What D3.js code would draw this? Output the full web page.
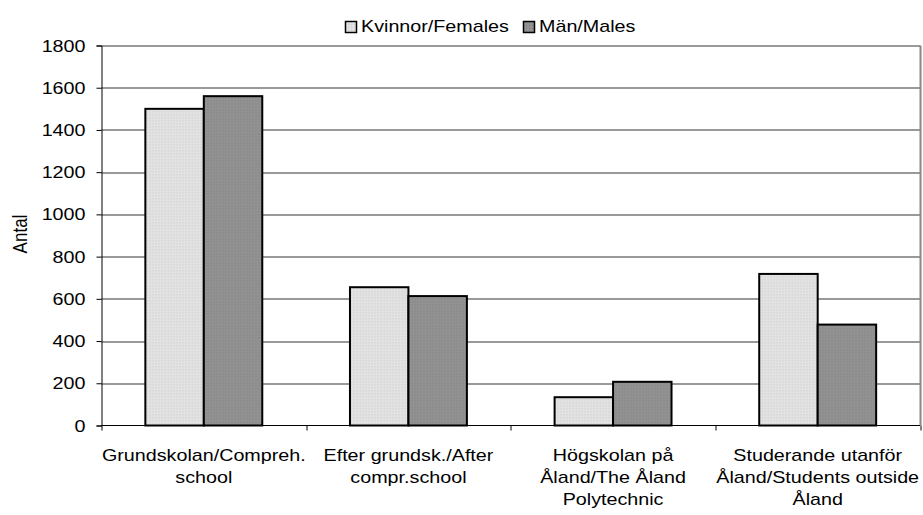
<!DOCTYPE html>
<html>
<head>
<meta charset="utf-8">
<script src="https://cdn.jsdelivr.net/npm/d3@7"></script>
<style>
  body { margin: 0; background: #fff; }
  text { font-family: "Liberation Sans", Arial, sans-serif; fill: #000; }
</style>
</head>
<body>
<div id="viz"></div>
<script>
// data
const categories = [
  ["Grundskolan/Compreh.", "school"],
  ["Efter grundsk./After", "compr.school"],
  ["Högskolan på", "Åland/The Åland", "Polytechnic"],
  ["Studerande utanför", "Åland/Students outside", "Åland"]
];
const seriesNames = ["Kvinnor/Females", "Män/Males"];
const females = [1500, 655, 134, 718];
const males = [1560, 613, 207, 478];
const yTicks = [0, 200, 400, 600, 800, 1000, 1200, 1400, 1600, 1800];

const width = 923, height = 515;
const margin = {top: 45.5, right: 3, bottom: 89.5, left: 101.5};
const innerW = width - margin.left - margin.right;
const innerH = height - margin.top - margin.bottom;
const fs = 17;      // font size
const sx = 1.16;    // the original text is wider than it is tall

const svg = d3.select("#viz").append("svg")
  .attr("width", width)
  .attr("height", height);

// text drawn at (x,y) and stretched sideways
function label(parent, x, y, str, anchor, rot) {
  return parent.append("text")
    .attr("transform", `translate(${x},${y})` + (rot ? ` rotate(${rot})` : "") + ` scale(${rot ? 1 : sx},${rot ? sx : 1})`)
    .attr("text-anchor", anchor || "start")
    .attr("font-size", fs)
    .text(str);
}

const defs = svg.append("defs");
const pf = defs.append("pattern").attr("id", "pf")
  .attr("width", 3).attr("height", 3).attr("patternUnits", "userSpaceOnUse");
pf.append("rect").attr("width", 3).attr("height", 3).attr("fill", "#e0e0e0");
pf.append("rect").attr("x", 0).attr("y", 0).attr("width", 1).attr("height", 1).attr("fill", "#cdcdcd");
pf.append("rect").attr("x", 2).attr("y", 1).attr("width", 1).attr("height", 1).attr("fill", "#ececec");
const pm = defs.append("pattern").attr("id", "pm")
  .attr("width", 3).attr("height", 3).attr("patternUnits", "userSpaceOnUse");
pm.append("rect").attr("width", 3).attr("height", 3).attr("fill", "#929292");
pm.append("rect").attr("x", 1).attr("y", 1).attr("width", 1).attr("height", 1).attr("fill", "#7c7c7c");

const g = svg.append("g").attr("transform", `translate(${margin.left},${margin.top})`);

const x0 = d3.scaleBand().domain(d3.range(categories.length)).range([0, innerW]).paddingInner(0).paddingOuter(0);
const x1 = d3.scaleBand().domain([0, 1]).range([0, x0.bandwidth()]).paddingInner(0).paddingOuter(0.75);
const y = d3.scaleLinear().domain([0, 1800]).range([innerH, 0]);

// gridlines
g.selectAll(".grid").data(yTicks.filter(d => d > 0)).enter().append("line")
  .attr("x1", 0).attr("x2", innerW)
  .attr("y1", d => Math.round(y(d)) + 0.5).attr("y2", d => Math.round(y(d)) + 0.5)
  .attr("stroke", "#000").attr("stroke-width", 1).attr("stroke-opacity", 0.8);

// right border
g.append("line").attr("x1", innerW + 0.5).attr("x2", innerW + 0.5).attr("y1", 0).attr("y2", innerH)
  .attr("stroke", "#888").attr("stroke-width", 2);

// bars
const series = [females, males];
const fills = ["url(#pf)", "url(#pm)"];
series.forEach((vals, si) => {
  g.selectAll(".bar" + si).data(vals).enter().append("rect")
    .attr("x", (d, i) => x0(i) + x1(si))
    .attr("y", d => y(d))
    .attr("width", x1.bandwidth())
    .attr("height", d => innerH - y(d))
    .attr("fill", fills[si])
    .attr("stroke", "#000")
    .attr("stroke-width", 2);
});

// y axis: line and ticks from d3, labels drawn stretched
const yAxis = g.append("g")
  .call(d3.axisLeft(y).tickValues(yTicks).tickSize(5).tickFormat(""));
yAxis.select(".domain").attr("stroke", "#000");
yTicks.forEach(t => label(g, -16, y(t) + 6, d3.format("d")(t), "end"));

// x axis with category ticks at band edges
const xg = g.append("g").attr("transform", `translate(0,${innerH})`);
xg.append("line").attr("x1", 0).attr("x2", innerW).attr("y1", 0).attr("y2", 0).attr("stroke", "#000");
xg.selectAll(".xt").data(d3.range(categories.length + 1)).enter().append("line")
  .attr("x1", i => Math.round(i * x0.step()) + 0.5).attr("x2", i => Math.round(i * x0.step()) + 0.5)
  .attr("y1", 0).attr("y2", 5).attr("stroke", "#000");

categories.forEach((lines, i) => {
  lines.forEach((ln, j) => label(xg, x0(i) + x0.bandwidth() / 2, 35 + j * 22, ln, "middle"));
});

// y title
label(svg, 27, 234, "Antal", "middle", -90);

// legend
const legX = [345, 523];
seriesNames.forEach((name, i) => {
  svg.append("rect").attr("x", legX[i] + 0.5).attr("y", 21.5).attr("width", 11).attr("height", 11)
    .attr("fill", fills[i]).attr("stroke", "#000").attr("stroke-width", 1.5);
  label(svg, legX[i] + 16, 32, name, "start");
});
</script>
</body>
</html>
